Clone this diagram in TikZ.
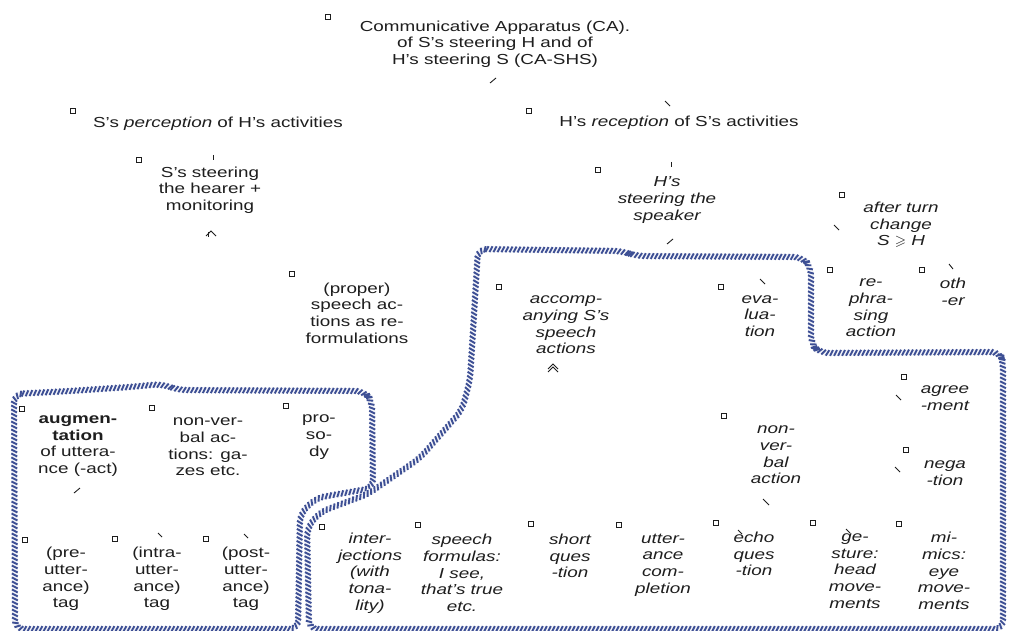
\documentclass[tikz,border=0pt]{standalone}
\usepackage{amssymb}
\usepackage{fontspec}
\setmainfont{Liberation Sans}[FakeStretch=1.3]
\usetikzlibrary{decorations.markings}
\definecolor{ropeblue}{HTML}{3D4F94}
\definecolor{ink}{HTML}{1E1E1E}
\tikzset{
  txt/.style={inner sep=0pt, align=center, text=ink, font=\fontsize{14.5}{16.7}\selectfont},
  itxt/.style={txt, font=\fontsize{14.5}{16.7}\selectfont\itshape},
  sq/.style={draw=ink, line width=0.8pt, minimum size=5.5pt, inner sep=0pt},
  tick/.style={draw=ink, line width=0.9pt},
  rope/.style={draw=ropeblue!6, line width=5.8pt,
    postaction={decorate, decoration={markings,
      mark=between positions 0 and 1 step 4pt with {\draw[ropeblue, line width=1.9pt] (-1.5pt,-2.9pt) -- (1.5pt,2.9pt);}}}}
}
\begin{document}
\begin{tikzpicture}[x=1pt,y=-1pt]
\useasboundingbox[fill=white] (0,0) rectangle (1012,631);

% regions
\draw[rope, rounded corners=9pt] (14,394) -- (70,391) -- (130,387) -- (162,384) -- (178,390) -- (364,391) -- (372,401) -- (373,488) -- (316,498) -- (300,514) -- (298,629) -- (15,629) -- cycle;
\draw[rope, rounded corners=9pt] (478,249) -- (622,251) -- (636,256) -- (802,257) -- (811,267) -- (811,344) -- (820,353) -- (1000,352) -- (1003,362) -- (1003,629) -- (309,629) -- (307,528) -- (320,512) -- (368,494) -- (420,458) -- (462,410) -- (470,380) -- cycle;

% squares
\foreach \n/\x/\y in {s1/328/17, s2/73/111, s3/529/111, s4/139/160, s5/598/170, s6/842/195,
  s7/292/274, s8/499/287, s9/721/287, s10/830/270, s11/922/270, s12/904/377, s13/724/416,
  s14/906/450, s15/22/409, s16/152/408, s17/286/406, s18/25/540, s19/115/539, s20/206/539,
  s21/322/527, s22/418/525, s23/531/524, s24/619/525, s25/716/523, s26/813/523, s27/899/524}
  \node[sq] (\n) at (\x,\y) {};

% texts
\node[txt] (ca) at (495,44) {Communicative Apparatus (CA).\\of S’s steering H and of\\H’s steering S (CA-SHS)};
\node[txt] (spe) at (218,124) {S’s \textit{perception} of H’s activities};
\node[txt] (hre) at (679,123) {H’s \textit{reception} of S’s activities};
\node[txt] (sst) at (210,190) {S’s steering\\the hearer +\\monitoring};
\node[itxt] (hst) at (667,200) {H’s\\steering the\\speaker};
\node[itxt] (atc) at (901,225) {after turn\\change\\S $\geqslant$ H};
\node[txt] (prop) at (357,313) {(proper)\\speech ac-\\tions as re-\\formulations};
\node[itxt] (acc) at (566,325) {accomp-\\anying S’s\\speech\\actions};
\node[itxt] (eva) at (760,316) {eva-\\lua-\\tion};
\node[itxt] (reph) at (871,308) {re-\\phra-\\sing\\action};
\node[itxt] (oth) at (953,292) {oth\\-er};
\node[itxt] (agr) at (945,398) {agree\\-ment};
\node[itxt] (nva) at (776,455) {non-\\ver-\\bal\\action};
\node[itxt] (neg) at (945,473) {nega\\-tion};
\node[txt] (aug) at (78,446) {\textbf{augmen-}\\\textbf{tation}\\of uttera-\\nce (-act)};
\node[txt] (nvb) at (208,447) {non-ver-\\bal ac-\\tions: ga-\\zes etc.};
\node[txt] (pros) at (319,437) {pro-\\so-\\dy};
\node[txt] (pre) at (66,579) {(pre-\\utter-\\ance)\\tag};
\node[txt] (intra) at (157,579) {(intra-\\utter-\\ance)\\tag};
\node[txt] (post) at (246,579) {(post-\\utter-\\ance)\\tag};
\node[itxt] (inj) at (370,573) {inter-\\jections\\(with\\tona-\\lity)};
\node[itxt] (sf) at (462,573) {speech\\formulas:\\I see,\\that’s true\\etc.};
\node[itxt] (shq) at (570,556) {short\\ques\\-tion};
\node[itxt] (uc) at (663,565) {utter-\\ance\\com-\\pletion};
\node[itxt] (ecq) at (754,554) {echo\\ques\\-tion};
\node[itxt] (ges) at (855,571) {ge-\\sture:\\head\\move-\\ments};
\node[itxt] (mim) at (944,571) {mi-\\mics:\\eye\\move-\\ments};

% tick fragments
\foreach \a/\b/\c/\d in {490/83/496/78, 665/101/670/106, 213/155/213/160, 671/162/671/167,
  667/244/673/239, 834/225/839/230, 760/279/765/284, 949/264/953/269, 896/395/901/400,
  895/467/900/472, 763/499/769/505, 74/493/80/488, 158/533/162/537, 244/534/248/538,
  738/530/742/534, 846/529/850/533}
  \draw[tick] (\a,\b) coordinate (p) -- (\c,\d) coordinate (q);
% carets
\coordinate (c1) at (206,236); \coordinate (c2) at (211,231); \coordinate (c3) at (216,236);
\draw[tick] (c1) -- (c2) -- (c3);
\draw[tick] (208,232) -- (208,237);
\coordinate (d1) at (548,369); \coordinate (d2) at (553,364); \coordinate (d3) at (558,369);
\draw[tick] (d1) -- (d2) -- (d3);
\draw[tick] (548,372) -- (553,367) -- (558,372);
\end{tikzpicture}
\end{document}
